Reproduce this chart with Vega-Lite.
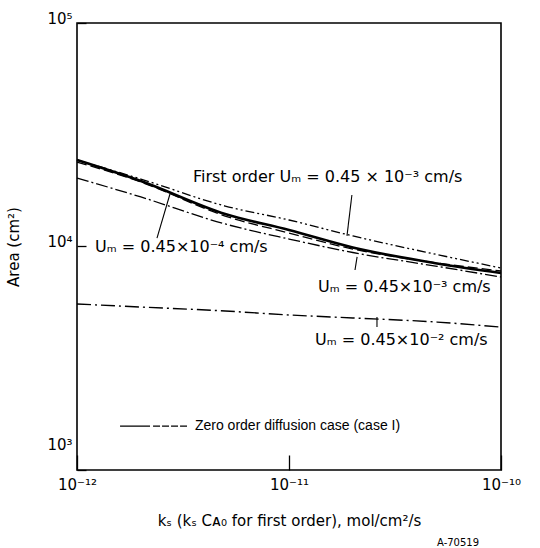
{
  "$schema": "https://vega.github.io/schema/vega-lite/v6.json",
  "width": 424,
  "height": 447,
  "autosize": "none",
  "padding": {"left": 77, "top": 23, "right": 39, "bottom": 78},
  "background": "white",
  "config": {
    "view": {"stroke": "black", "strokeWidth": 1.6},
    "font": "DejaVu Sans",
    "axis": {
      "domain": false,
      "grid": false,
      "tickColor": "black",
      "tickWidth": 1.3,
      "labelColor": "black",
      "titleColor": "black",
      "labelFontSize": 15,
      "titleFontSize": 15,
      "titleFontWeight": "normal"
    }
  },
  "datasets": {
    "curves": [
      {"series": "A", "x": 1e-12, "y": 24380}, {"series": "A", "x": 2e-12, "y": 20040}, {"series": "A", "x": 5e-12, "y": 15170}, {"series": "A", "x": 1e-11, "y": 13140}, {"series": "A", "x": 2e-11, "y": 11150}, {"series": "A", "x": 5e-11, "y": 9200}, {"series": "A", "x": 1e-10, "y": 8010},
      {"series": "B", "x": 1e-12, "y": 24380}, {"series": "B", "x": 2e-12, "y": 19640}, {"series": "B", "x": 5e-12, "y": 13980}, {"series": "B", "x": 1e-11, "y": 11850}, {"series": "B", "x": 2e-11, "y": 9900}, {"series": "B", "x": 5e-11, "y": 8400}, {"series": "B", "x": 1e-10, "y": 7610},
      {"series": "C", "x": 1e-12, "y": 23880}, {"series": "C", "x": 2e-12, "y": 19440}, {"series": "C", "x": 5e-12, "y": 13690}, {"series": "C", "x": 1e-11, "y": 11490}, {"series": "C", "x": 2e-11, "y": 9740}, {"series": "C", "x": 5e-11, "y": 8440}, {"series": "C", "x": 1e-10, "y": 7770},
      {"series": "D", "x": 1e-12, "y": 20250}, {"series": "D", "x": 2e-12, "y": 16660}, {"series": "D", "x": 5e-12, "y": 12610}, {"series": "D", "x": 1e-11, "y": 10800}, {"series": "D", "x": 2e-11, "y": 9400}, {"series": "D", "x": 5e-11, "y": 8150}, {"series": "D", "x": 1e-10, "y": 7305},
      {"series": "E", "x": 1e-12, "y": 5530}, {"series": "E", "x": 2e-12, "y": 5360}, {"series": "E", "x": 5e-12, "y": 5145}, {"series": "E", "x": 1e-11, "y": 4940}, {"series": "E", "x": 2e-11, "y": 4790}, {"series": "E", "x": 5e-11, "y": 4590}, {"series": "E", "x": 1e-10, "y": 4360}
    ],
    "leaders": [
      {"x": 2.384e-12, "y": 10910, "x2": 2.745e-12, "y2": 17170},
      {"x": 1.98e-11, "y": 17000, "x2": 1.877e-11, "y2": 11150},
      {"x": 2.095e-11, "y": 8980, "x2": 2.048e-11, "y2": 7850},
      {"x": 2.6e-11, "y": 4837, "x2": 2.6e-11, "y2": 4360}
    ],
    "labels": [
      {"label": "First order  Uₘ = 0.45 × 10⁻³ cm/s", "x": 3.524e-12, "y": 20470},
      {"label": "Uₘ = 0.45×10⁻⁴ cm/s", "x": 1.216e-12, "y": 9950},
      {"label": "Uₘ = 0.45×10⁻³ cm/s", "x": 1.37e-11, "y": 6590},
      {"label": "Uₘ = 0.45×10⁻² cm/s", "x": 1.326e-11, "y": 3817}
    ],
    "legendtext": [
      {"label": "Zero order diffusion case (case I)", "x": 3.6e-12, "y": 1573}
    ],
    "legendline": [
      {"x": 1.596e-12, "y": 1573},
      {"x": 3.34e-12, "y": 1573}
    ],
    "figid": [
      {"label": "A-70519", "x": 6.27e-11, "y": 470}
    ]
  },
  "encoding": {
    "x": {
      "field": "x",
      "type": "quantitative",
      "scale": {"type": "log", "domain": [1e-12, 1e-10], "nice": false},
      "axis": {
        "values": [1e-12, 1e-11, 1e-10],
        "labelExpr": "datum.value < 5e-12 ? '10⁻¹²' : datum.value < 5e-11 ? '10⁻¹¹' : '10⁻¹⁰'",
        "tickSize": -15,
        "labelPadding": 22,
        "labelFlush": false,
        "title": "kₛ (kₛ Cᴀ₀ for first order), mol/cm²/s",
        "titlePadding": 21
      }
    },
    "y": {
      "field": "y",
      "type": "quantitative",
      "scale": {"type": "log", "domain": [1000, 100000], "nice": false},
      "axis": {
        "values": [1000, 10000, 100000],
        "labelExpr": "datum.value < 5000 ? '10³' : datum.value < 50000 ? '10⁴' : '10⁵'",
        "tickSize": -9,
        "labelPadding": 14,
        "labelBaseline": "alphabetic",
        "labelOffset": {"condition": {"test": "datum.value < 5000", "value": -21}, "value": 0},
        "labelFlush": false,
        "title": "Area (cm²)",
        "titlePadding": 25
      }
    }
  },
  "layer": [
    {
      "data": {"name": "curves"},
      "transform": [{"filter": "datum.series == 'A'"}],
      "mark": {"type": "line", "color": "black", "strokeWidth": 1.3, "strokeDash": [9, 3, 2, 3, 2, 3], "interpolate": "monotone"},
      "encoding": {}
    },
    {
      "data": {"name": "curves"},
      "transform": [{"filter": "datum.series == 'B'"}],
      "mark": {"type": "line", "color": "black", "strokeWidth": 2.6, "interpolate": "monotone"},
      "encoding": {}
    },
    {
      "data": {"name": "curves"},
      "transform": [{"filter": "datum.series == 'C'"}],
      "mark": {"type": "line", "color": "black", "strokeWidth": 1.3, "strokeDash": [10, 4], "interpolate": "monotone"},
      "encoding": {}
    },
    {
      "data": {"name": "curves"},
      "transform": [{"filter": "datum.series == 'D'"}],
      "mark": {"type": "line", "color": "black", "strokeWidth": 1.3, "strokeDash": [12, 3, 2, 3], "interpolate": "monotone"},
      "encoding": {}
    },
    {
      "data": {"name": "curves"},
      "transform": [{"filter": "datum.series == 'E'"}],
      "mark": {"type": "line", "color": "black", "strokeWidth": 1.4, "strokeDash": [14, 4, 2, 4], "interpolate": "monotone"},
      "encoding": {}
    },
    {
      "data": {"name": "legendline"},
      "mark": {"type": "line", "color": "black", "strokeWidth": 1.3, "strokeDash": [30, 3, 7, 2, 7, 2, 7, 2, 7, 40]},
      "encoding": {}
    },
    {
      "data": {"name": "leaders"},
      "mark": {"type": "rule", "color": "black", "strokeWidth": 1.1},
      "encoding": {"x2": {"field": "x2"}, "y2": {"field": "y2"}}
    },
    {
      "data": {"name": "labels"},
      "mark": {"type": "text", "align": "left", "baseline": "middle", "fontSize": 16, "color": "black"},
      "encoding": {"text": {"field": "label"}}
    },
    {
      "data": {"name": "legendtext"},
      "mark": {"type": "text", "align": "left", "baseline": "middle", "fontSize": 14, "font": "Liberation Sans", "color": "black"},
      "encoding": {"text": {"field": "label"}}
    },
    {
      "data": {"name": "figid"},
      "mark": {"type": "text", "align": "center", "baseline": "middle", "fontSize": 10, "color": "black"},
      "encoding": {"text": {"field": "label"}}
    }
  ]
}
